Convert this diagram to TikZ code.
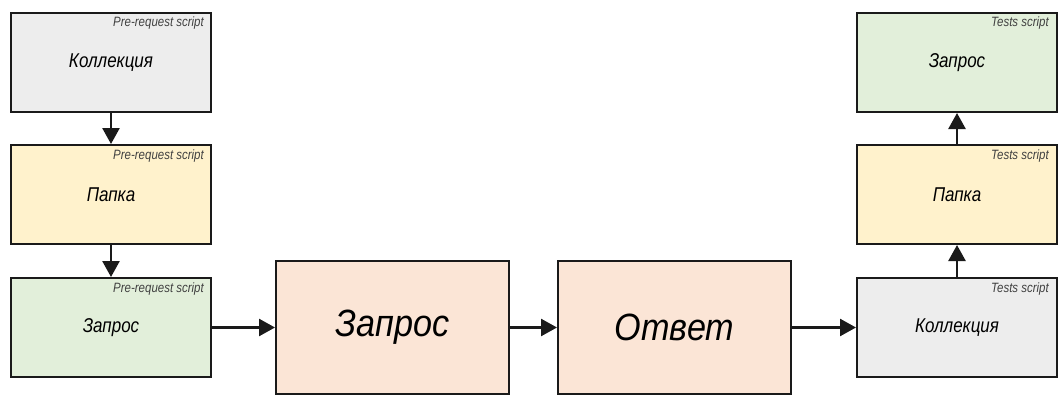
\documentclass[tikz,border=0pt]{standalone}
\usepackage{fontspec}
\setmainfont{Liberation Sans}
\newfontfamily\condsmall{Liberation Sans}[FakeStretch=0.85]
\newfontfamily\condbig{Liberation Sans}[FakeStretch=0.9]
\usetikzlibrary{arrows.meta}
\definecolor{cgrey}{HTML}{EDEDED}
\definecolor{cyellow}{HTML}{FFF2CC}
\definecolor{cgreen}{HTML}{E2EFDA}
\definecolor{cpeach}{HTML}{FBE5D6}
\definecolor{cline}{HTML}{1A1A1A}
\tikzset{
  blk/.style={draw=cline, line width=2pt, anchor=north west, inner sep=0pt,
    font=\condsmall\fontsize{20}{22}\selectfont\itshape},
  small/.style={blk, minimum width=200pt, minimum height=99pt},
  big/.style={blk, minimum width=233pt, minimum height=133pt,
    font=\condbig\fontsize{38}{42}\selectfont\itshape},
  scr/.style={anchor=base east, inner sep=0pt, text=black!75,
    font=\condsmall\fontsize{13.5}{14}\selectfont\itshape},
  arr/.style={draw=cline, line width=2.5pt, -{Triangle[length=16pt,width=17pt]}}
}
\begin{document}
\begin{tikzpicture}[x=1pt,y=-1pt]
\useasboundingbox[fill=white] (0,0) rectangle (1064,401);
% left column
\node[small, fill=cgrey]   (lc) at (10,12)  {Коллекция};
\node[small, fill=cyellow] (lp) at (10,144) {Папка};
\node[small, fill=cgreen]  (lz) at (10,277) {Запрос};
% center
\node[big, fill=cpeach] (bz) at (275,260) {Запрос};
\node[big, fill=cpeach] (bo) at (557,260) {Ответ};
% right column
\node[small, fill=cgreen]  (rz) at (856,12)  {Запрос};
\node[small, fill=cyellow] (rp) at (856,144) {Папка};
\node[small, fill=cgrey]   (rc) at (856,277) {Коллекция};
% script labels
\node[scr] (slc) at ([shift={(-8,15)}]lc.north east) {Pre-request script};
\node[scr] (slp) at ([shift={(-8,15)}]lp.north east) {Pre-request script};
\node[scr] (slz) at ([shift={(-8,15)}]lz.north east) {Pre-request script};
\node[scr] (srz) at ([shift={(-9,15)}]rz.north east) {Tests script};
\node[scr] (srp) at ([shift={(-9,15)}]rp.north east) {Tests script};
\node[scr] (src) at ([shift={(-9,15)}]rc.north east) {Tests script};
% arrows
\draw[arr] (lc.south) -- (lp.north);
\draw[arr] (lp.south) -- (lz.north);
\draw[arr] (lz.east) -- (bz.west |- lz.east);
\draw[arr] (bz.east |- lz.east) -- (bo.west |- lz.east);
\draw[arr] (bo.east |- rc.west) -- (rc.west);
\draw[arr] (rc.north) -- (rp.south);
\draw[arr] (rp.north) -- (rz.south);
\end{tikzpicture}
\end{document}
